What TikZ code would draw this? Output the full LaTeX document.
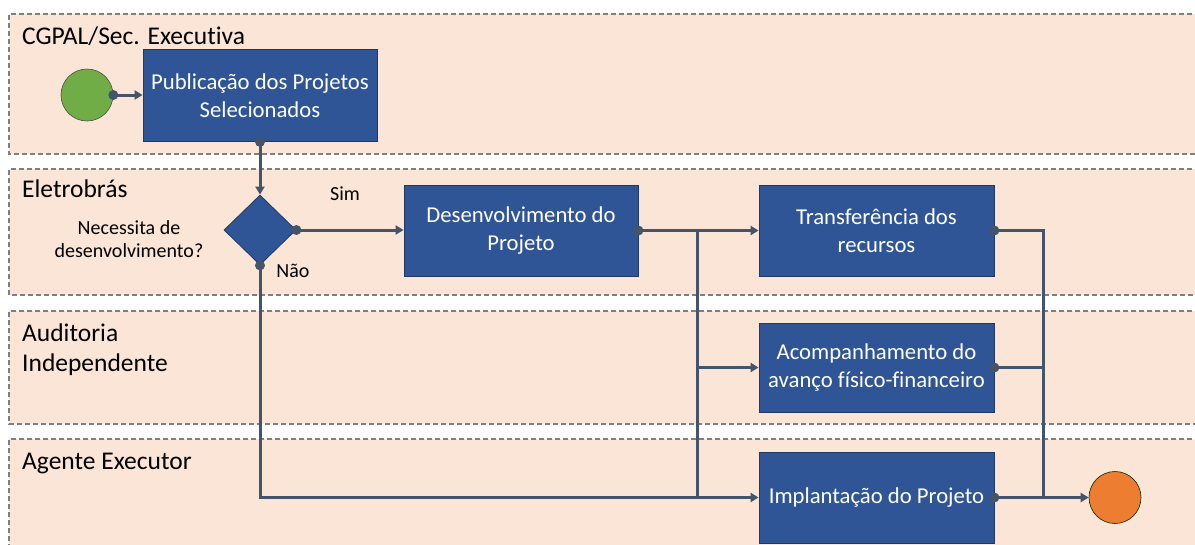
\documentclass[tikz,border=0pt]{standalone}
\usepackage{fontspec}
\setmainfont{Carlito}[Ligatures=NoCommon]
\usetikzlibrary{shapes.geometric,arrows.meta}
\definecolor{lanefill}{HTML}{FBE5D6}
\definecolor{laneborder}{HTML}{7F7F7F}
\definecolor{boxfill}{HTML}{2F5597}
\definecolor{boxborder}{HTML}{1F3864}
\definecolor{conncol}{HTML}{44546A}
\definecolor{startfill}{HTML}{70AD47}
\definecolor{endfill}{HTML}{ED7D31}
\tikzset{
  lane/.style={fill=lanefill,draw=laneborder,line width=1.4pt,dash pattern=on 5pt off 3pt},
  lanelabel/.style={anchor=base west,inner sep=0,font=\fontsize{25.5}{30}\selectfont,align=left},
  procbox/.style={rectangle,fill=boxfill,draw=boxborder,line width=0.8pt,text=white,
     align=center,font=\fontsize{22.7}{28}\selectfont,inner sep=0},
  decbox/.style={diamond,fill=boxfill,draw=boxborder,line width=0.8pt,inner sep=0,
     minimum width=72pt,minimum height=70pt},
  sidelabel/.style={anchor=base,inner sep=0,font=\fontsize{20}{23}\selectfont,align=center},
  conn/.style={draw=conncol,line width=3pt,-{Triangle[length=8pt,width=9pt]}},
  connplain/.style={draw=conncol,line width=3pt},
  dotc/.style={fill=conncol},
}
\begin{document}
\begin{tikzpicture}[x=1pt,y=-1pt]
\useasboundingbox (0,0) rectangle (1195,544);
\fill[white] (0,0) rectangle (1195,544);
% lanes
\draw[lane] (1200,14) -- (9,14) -- (9,154) -- (1200,154);
\draw[lane] (1200,169) -- (9,169) -- (9,295) -- (1200,295);
\draw[lane] (1200,311) -- (9,311) -- (9,424) -- (1200,424);
\draw[lane] (1200,439) -- (9,439) -- (9,550);
\fill[lanefill] (9.7,439.7) rectangle (1200,550);
% lane labels
\node[lanelabel] (l1) at (22,44) {CGPAL/Sec. Executiva};
\node[lanelabel] (l2) at (22,197) {Eletrobrás};
\node[lanelabel] (l3) at (22,371) {Auditoria\\Independente};
\node[lanelabel] (l4) at (22,469) {Agente Executor};
% nodes
\node[circle,fill=startfill,draw=black!70,line width=0.6pt,minimum size=52pt,inner sep=0] (start) at (87,95) {};
\node[procbox,minimum width=234pt,minimum height=92pt] (pub) at (260,95.5) {Publicação dos Projetos\\Selecionados};
\node[decbox] (dec) at (260,230) {};
\node[procbox,minimum width=234pt,minimum height=91pt] (dev) at (521,230.5) {Desenvolvimento do\\Projeto};
\node[procbox,minimum width=235pt,minimum height=91pt] (trf) at (876.5,230.5) {Transferência dos\\recursos};
\node[procbox,minimum width=235pt,minimum height=89pt] (acp) at (876.5,367.5) {Acompanhamento do\\avanço físico-financeiro};
\node[procbox,minimum width=235pt,minimum height=91pt] (imp) at (876.5,497.5) {Implantação do Projeto};
\node[circle,fill=endfill,draw=black!60!green!40!black,line width=0.6pt,minimum size=52pt,inner sep=0] (end) at (1115,497.5) {};
% labels
\node[sidelabel,align=center] (q) at (129,257) {Necessita de\\desenvolvimento?};
\node[sidelabel] (sim) at (345,200) {Sim};
\node[sidelabel] (nao) at (293,277) {Não};
% junctions
\coordinate (j1) at (697,230.5);
\coordinate (j2) at (1043,230.5);
% connectors
\draw[conn] (start.east) -- (start.east -| pub.west);
\draw[conn] (pub.south) -- (dec.north);
\draw[conn] (dec.east) -- (dec.east -| dev.west);
\draw[conn] (dec.south) -- (dec.south |- imp.west) -- (imp.west);
\draw[conn] (dev.east) -- (trf.west);
\draw[connplain] (j1) -- (j1 |- imp.west);
\draw[conn] (j1 |- acp.west) -- (acp.west);
\draw[connplain] (trf.east) -- (j2) -- (j2 |- imp.east);
\draw[connplain] (acp.east) -- (acp.east -| j2);
\draw[conn] (imp.east) -- (end.west);
% dots
\foreach \p in {start.east,pub.south,dec.east,dec.south,dev.east,trf.east,acp.east,imp.east}
  \fill[dotc] (\p) circle (5pt);
\end{tikzpicture}
\end{document}
